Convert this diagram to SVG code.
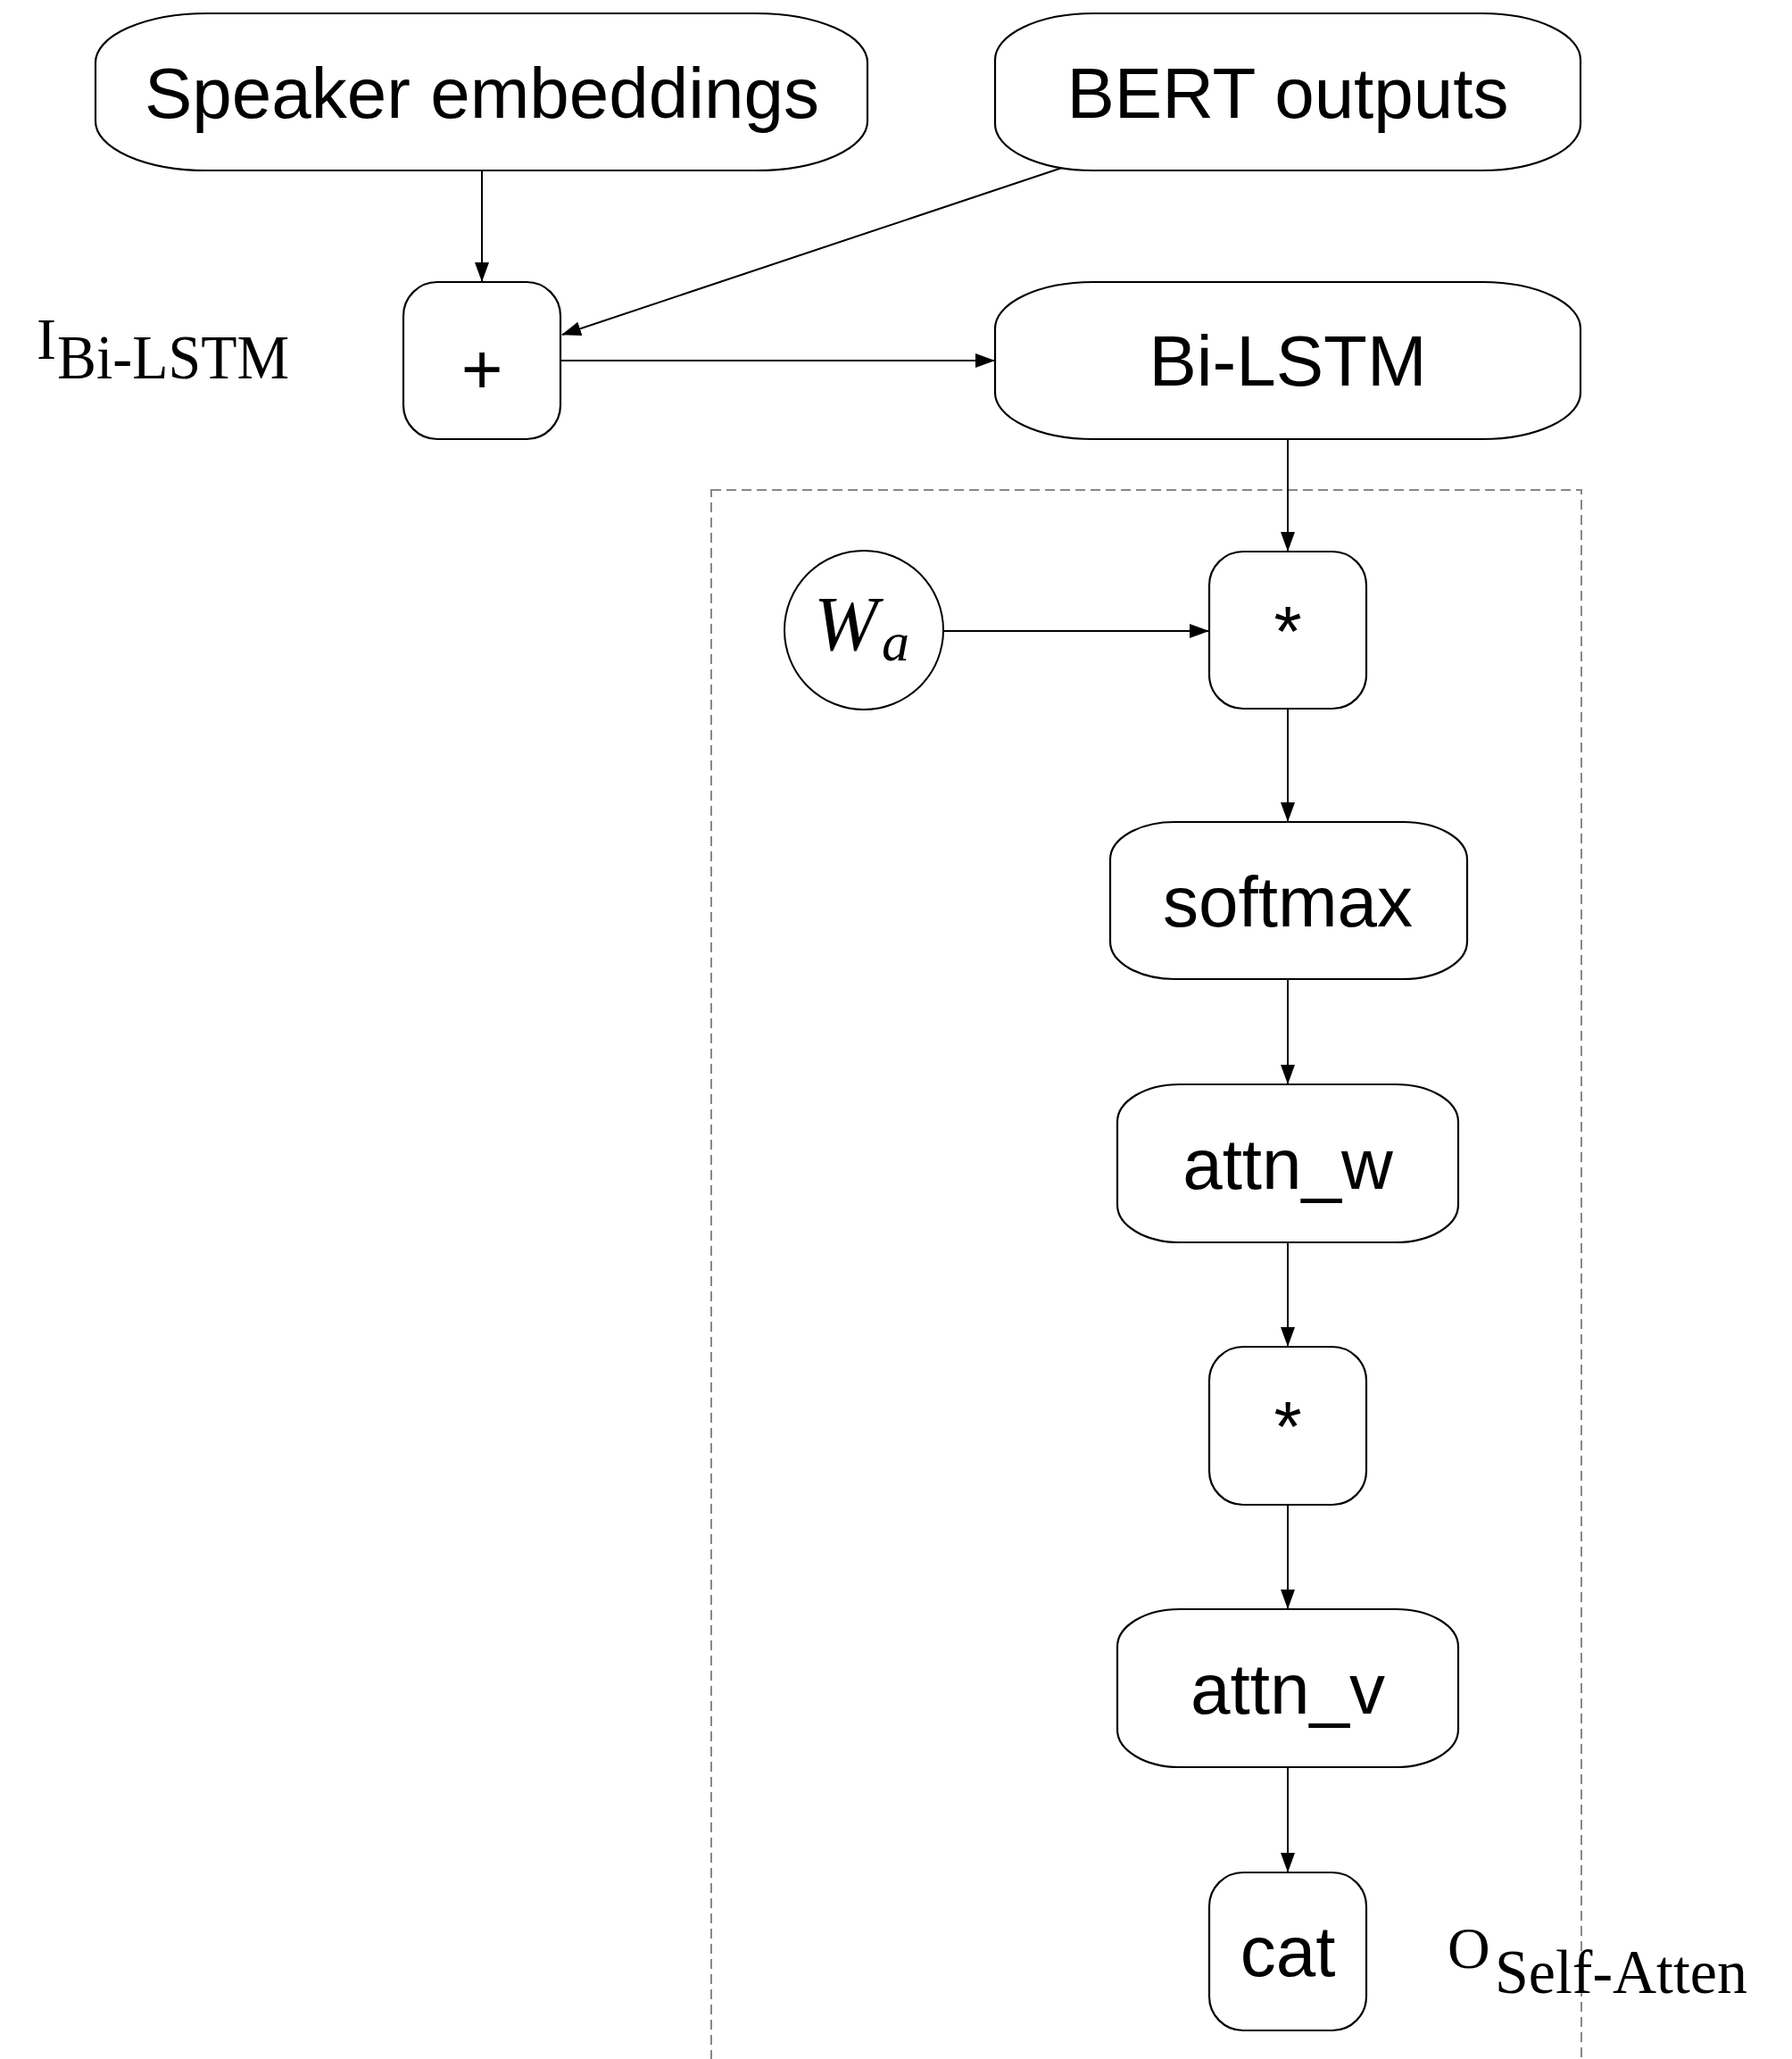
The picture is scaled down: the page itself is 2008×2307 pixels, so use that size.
<svg xmlns="http://www.w3.org/2000/svg" width="2008" height="2307" viewBox="0 0 2008 2307">
  <style>
    .box { fill: #ffffff; stroke: #000000; stroke-width: 2.2; }
    .lbl { font-family: "Liberation Sans", Arial, Helvetica, sans-serif; font-size: 80px; fill: #000000; text-anchor: middle; }
    .serif { font-family: "Liberation Serif", "Times New Roman", serif; fill: #000000; }
    .edge { stroke: #000000; stroke-width: 2; fill: none; marker-end: url(#arrow); }
    .group { fill: none; stroke: #888888; stroke-width: 2; stroke-dasharray: 11 6; }
  </style>
  <defs>
    <marker id="arrow" markerUnits="userSpaceOnUse" markerWidth="22" markerHeight="16" viewBox="0 0 22 16" refX="21" refY="8" orient="auto">
      <path d="M0,0 L22,8 L0,16 Z" fill="#000000"/>
    </marker>
  </defs>
  <rect width="2008" height="2307" fill="#ffffff"/>

  <g id="self-attention-group">
    <rect class="group" x="797" y="549" width="975" height="1800"/>
  </g>

  <g id="connectors">
    <line class="edge" x1="540" y1="191" x2="540" y2="315"/>
    <line class="edge" x1="1193" y1="187" x2="630" y2="375"/>
    <line class="edge" x1="628" y1="404" x2="1114" y2="404"/>
    <line class="edge" x1="1443" y1="491" x2="1443" y2="617"/>
    <line class="edge" x1="1057" y1="707" x2="1354" y2="707"/>
    <line class="edge" x1="1443" y1="794" x2="1443" y2="920"/>
    <line class="edge" x1="1443" y1="1097" x2="1443" y2="1214"/>
    <line class="edge" x1="1443" y1="1392" x2="1443" y2="1508"/>
    <line class="edge" x1="1443" y1="1686" x2="1443" y2="1802"/>
    <line class="edge" x1="1443" y1="1980" x2="1443" y2="2097"/>
  </g>

  <g id="speaker-embeddings">
    <rect class="box" x="107" y="15" width="865" height="176" rx="125" ry="55"/>
    <text class="lbl" x="540" y="132">Speaker embeddings</text>
  </g>

  <g id="bert-outputs">
    <rect class="box" x="1115" y="15" width="656" height="176" rx="110" ry="52"/>
    <text class="lbl" x="1443" y="132">BERT outputs</text>
  </g>

  <g id="plus">
    <rect class="box" x="452" y="316" width="176" height="176" rx="38" ry="38"/>
    <text class="lbl" x="540" y="441">+</text>
  </g>

  <g id="bi-lstm">
    <rect class="box" x="1115" y="316" width="656" height="176" rx="110" ry="52"/>
    <text class="lbl" x="1443" y="432">Bi-LSTM</text>
  </g>

  <g id="label-i-bilstm">
    <text class="serif" x="41" y="402" font-size="66">I</text>
    <text class="serif" x="64" y="424" font-size="70" textLength="260" lengthAdjust="spacingAndGlyphs">Bi-LSTM</text>
  </g>

  <g id="wa">
    <circle cx="968" cy="706" r="89" fill="#ffffff" stroke="#000000" stroke-width="2"/>
    <text class="serif" x="912" y="728" font-size="86" font-style="italic">W</text>
    <text class="serif" x="988" y="740" font-size="62" font-style="italic">a</text>
  </g>

  <g id="mul1">
    <rect class="box" x="1355" y="618" width="176" height="176" rx="38" ry="38"/>
    <text class="lbl" x="1443" y="735">*</text>
  </g>

  <g id="softmax">
    <rect class="box" x="1244" y="921" width="400" height="176" rx="72" ry="42"/>
    <text class="lbl" x="1443" y="1038">softmax</text>
  </g>

  <g id="attn-w">
    <rect class="box" x="1252" y="1215" width="382" height="177" rx="70" ry="42"/>
    <text class="lbl" x="1443" y="1332">attn_w</text>
  </g>

  <g id="mul2">
    <rect class="box" x="1355" y="1509" width="176" height="177" rx="38" ry="38"/>
    <text class="lbl" x="1443" y="1626">*</text>
  </g>

  <g id="attn-v">
    <rect class="box" x="1252" y="1803" width="382" height="177" rx="70" ry="42"/>
    <text class="lbl" x="1443" y="1920">attn_v</text>
  </g>

  <g id="cat">
    <rect class="box" x="1355" y="2098" width="176" height="177" rx="38" ry="38"/>
    <text class="lbl" x="1443" y="2214">cat</text>
  </g>

  <g id="label-o-selfatten">
    <text class="serif" x="1622" y="2205" font-size="66">O</text>
    <text class="serif" x="1675" y="2233" font-size="70" textLength="283" lengthAdjust="spacingAndGlyphs">Self-Atten</text>
  </g>
</svg>
